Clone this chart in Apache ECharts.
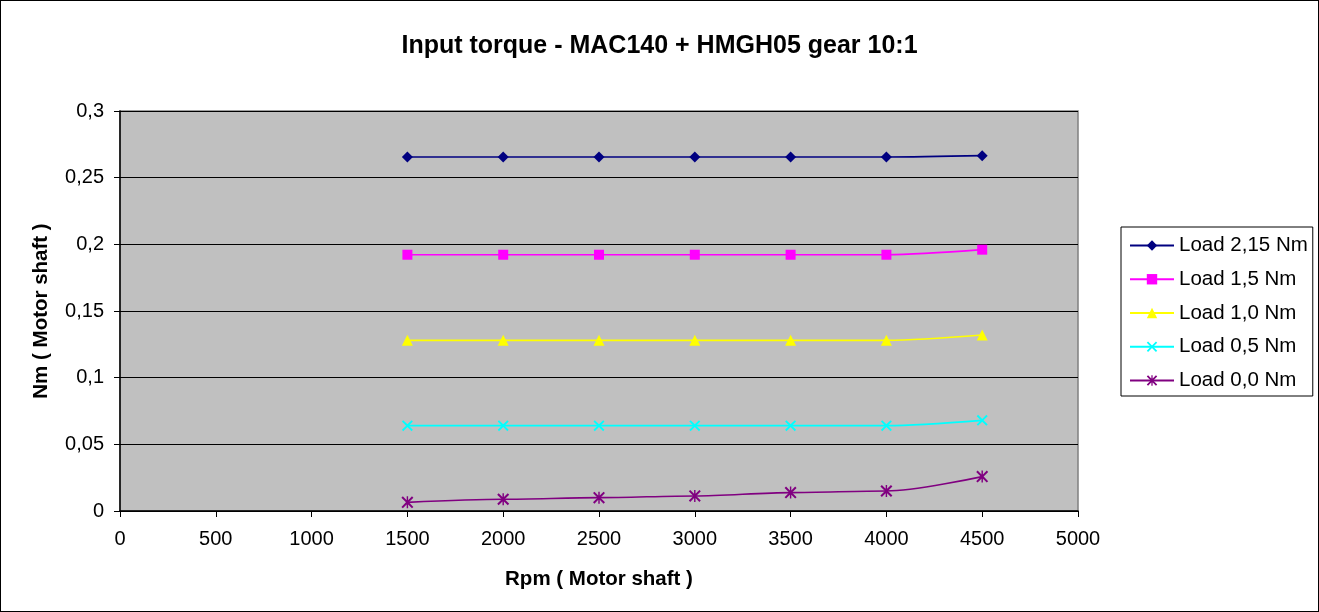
<!DOCTYPE html>
<html>
<head>
<meta charset="utf-8">
<script src="https://cdn.jsdelivr.net/npm/echarts@6/dist/echarts.min.js"></script>
<style>
html,body{margin:0;padding:0;background:#fff;}
#wrap{width:1319px;height:612px;box-sizing:border-box;border:1px solid #000;position:relative;}
#chart{position:absolute;left:-1px;top:-1px;width:1319px;height:612px;}
</style>
</head>
<body>
<div id="wrap"><div id="chart"></div></div>
<script>
const rpm = [1500, 2000, 2500, 3000, 3500, 4000, 4500];
const load215 = [0.2655, 0.2655, 0.2655, 0.2655, 0.2655, 0.2655, 0.2665];
const load150 = [0.1922, 0.1922, 0.1922, 0.1922, 0.1922, 0.1922, 0.196];
const load100 = [0.128, 0.128, 0.128, 0.128, 0.128, 0.128, 0.132];
const load050 = [0.064, 0.064, 0.064, 0.064, 0.064, 0.064, 0.068];
const load000 = [0.0065, 0.0088, 0.0100, 0.0113, 0.0138, 0.0150, 0.0258];
const seriesNames = ['Load 2,15 Nm', 'Load 1,5 Nm', 'Load 1,0 Nm', 'Load 0,5 Nm', 'Load 0,0 Nm'];
const xTicks = [0, 500, 1000, 1500, 2000, 2500, 3000, 3500, 4000, 4500, 5000];
const yTicks = [0, 0.05, 0.1, 0.15, 0.2, 0.25, 0.3];

const X_PATH = 'path://M0,1.2L1.2,0L5,3.8L8.8,0L10,1.2L6.2,5L10,8.8L8.8,10L5,6.2L1.2,10L0,8.8L3.8,5Z';
const STAR_PATH = 'path://M0,1.2L1.2,0L5,3.8L8.8,0L10,1.2L6.2,5L10,8.8L8.8,10L5,6.2L1.2,10L0,8.8L3.8,5Z M4.4,0L5.6,0L5.6,10L4.4,10Z';

const styles = [
  {color: '#000080', symbol: 'diamond', size: 11},
  {color: '#FF00FF', symbol: 'rect', size: 10},
  {color: '#FFFF00', symbol: 'triangle', size: 11},
  {color: '#00FFFF', symbol: X_PATH, size: 11},
  {color: '#800080', symbol: STAR_PATH, size: 12}
];
const values = [load215, load150, load100, load050, load000];

const font = '"Liberation Sans", Arial, sans-serif';

const series = values.map((vals, i) => ({
  name: seriesNames[i],
  type: 'line',
  data: rpm.map((x, j) => [x, vals[j]]),
  smooth: 0.3,
  smoothMonotone: 'x',
  symbol: styles[i].symbol,
  symbolSize: styles[i].size,
  symbolKeepAspect: true,
  showSymbol: true,
  lineStyle: {color: styles[i].color, width: 1.6},
  itemStyle: {color: styles[i].color},
  emphasis: {disabled: true},
  z: 10 - i
}));

const chart = echarts.init(document.getElementById('chart'), null, {renderer: 'canvas'});
chart.setOption({
  animation: false,
  backgroundColor: 'transparent',
  title: {
    text: 'Input torque - MAC140 + HMGH05 gear 10:1',
    left: 'center',
    top: 29,
    textStyle: {fontFamily: font, fontSize: 25, fontWeight: 'bold', color: '#000'}
  },
  grid: {
    left: 120, right: 241, top: 111, bottom: 101,
    show: true, backgroundColor: '#C0C0C0', borderColor: '#808080', borderWidth: 1.5
  },
  legend: {
    orient: 'vertical',
    left: 1121, top: 227,
    padding: [8, 5, 5, 8],
    itemGap: 12.75,
    itemWidth: 44,
    itemHeight: 13,
    borderColor: '#000', borderWidth: 1,
    backgroundColor: '#fff',
    textStyle: {fontFamily: font, fontSize: 20.5, color: '#000'},
    data: seriesNames
  },
  xAxis: {
    type: 'value',
    min: xTicks[0], max: xTicks[xTicks.length - 1], interval: 500,
    name: 'Rpm ( Motor shaft )',
    nameLocation: 'middle',
    nameGap: 58,
    nameTextStyle: {fontFamily: font, fontSize: 20.5, fontWeight: 'bold', color: '#000'},
    axisLine: {show: true, onZero: false, lineStyle: {color: '#000', width: 1.5}},
    axisTick: {show: true, length: 6, lineStyle: {color: '#000'}},
    axisLabel: {fontFamily: font, fontSize: 20, color: '#000', margin: 18, formatter: v => String(v)},
    splitLine: {show: false}
  },
  yAxis: {
    type: 'value',
    min: yTicks[0], max: yTicks[yTicks.length - 1], interval: 0.05,
    name: 'Nm ( Motor shaft )',
    nameLocation: 'middle',
    nameGap: 68,
    nameRotate: 90,
    nameTextStyle: {fontFamily: font, fontSize: 20.5, fontWeight: 'bold', color: '#000'},
    axisLine: {show: true, lineStyle: {color: '#000', width: 1.5}},
    axisTick: {show: true, length: 6, lineStyle: {color: '#000'}},
    axisLabel: {
      fontFamily: font, fontSize: 20, color: '#000', margin: 16,
      formatter: v => String(Math.round(v * 1000) / 1000).replace('.', ',')
    },
    splitLine: {show: true, lineStyle: {color: '#000', width: 1}}
  },
  series: series
});
</script>
</body>
</html>
